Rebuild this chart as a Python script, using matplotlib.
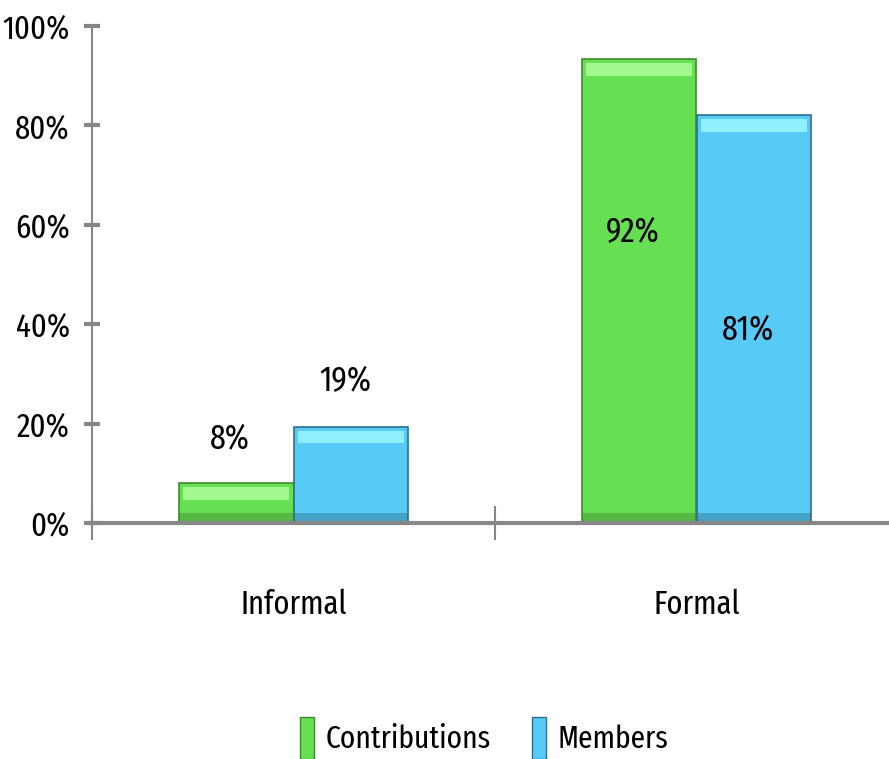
import matplotlib
matplotlib.use('Agg')
import matplotlib.pyplot as plt
from matplotlib.patches import Patch
import numpy as np

plt.rcParams['font.family'] = ['Fira Sans Extra Condensed', 'DejaVu Sans']

categories = ['Informal', 'Formal']
contributions = [8, 93.4]   # bar heights
members = [19.4, 82]
contrib_labels = ['8%', '92%']
member_labels = ['19%', '81%']
yticks = [0, 20, 40, 60, 80, 100]

green = '#66df52'
green_hi = '#a3f78f'
green_dk = '#3f8a31'
blue = '#58caf6'
blue_hi = '#8ff0fc'
blue_dk = '#2e6f8c'
axis_gray = '#878787'

fig = plt.figure(figsize=(8.89, 7.59), dpi=100)
ax = fig.add_axes([92/889, 236/759, 806/889, 497/759])

x = np.arange(len(categories))
w = 0.285

def bevel_bar(xs, heights, color, hi, dk):
    ax.bar(xs, heights, width=w, align='edge', color=color, edgecolor=dk,
           linewidth=1.2, zorder=2)
    # top highlight band and darker base band
    ax.bar(xs + w*0.04, [2.6]*len(xs), width=w*0.92, bottom=np.array(heights) - 3.4,
           align='edge', color=hi, linewidth=0, zorder=3)
    ax.bar(xs, [2.0]*len(xs), width=w, bottom=0, align='edge', color=dk,
           alpha=0.45, linewidth=0, zorder=3)

bevel_bar(x - w, contributions, green, green_hi, green_dk)
bevel_bar(x, members, blue, blue_hi, blue_dk)

# data labels
label_y_c = [17, 58.5]
label_y_m = [28.5, 39]
for i in range(len(categories)):
    ax.text(x[i] - w/2 - 0.015, label_y_c[i], contrib_labels[i], ha='center', va='center',
            fontsize=25, zorder=5)
    ax.text(x[i] + w/2 - 0.015, label_y_m[i], member_labels[i], ha='center', va='center',
            fontsize=25, zorder=5)

ax.set_xlim(-0.5, 1.5)
ax.set_ylim(0, 100)

for s in ['top', 'right']:
    ax.spines[s].set_visible(False)
ax.spines['left'].set_color(axis_gray)
ax.spines['left'].set_linewidth(1.5)
ax.spines['bottom'].set_color(axis_gray)
ax.spines['bottom'].set_linewidth(3)
ax.spines['bottom'].set_zorder(4)

ax.set_yticks(yticks)
ax.set_yticklabels(['%d%%' % v for v in yticks])
ax.tick_params(axis='y', direction='inout', length=12, width=3, color=axis_gray,
               labelsize=24, pad=10)

ax.set_xticks(x)
ax.set_xticklabels(categories)
ax.set_xticks([-0.5, 0.5, 1.5], minor=True)
ax.tick_params(axis='x', which='major', length=0, labelsize=24, pad=47)
ax.tick_params(axis='x', which='minor', direction='inout', length=25, width=1.5,
               color=axis_gray)

handles = [Patch(facecolor=green, edgecolor=green_dk, label='Contributions'),
           Patch(facecolor=blue, edgecolor=blue_dk, label='Members')]
fig.legend(handles=handles, loc='center', bbox_to_anchor=(484/889, 1 - 738/759),
           ncol=2, frameon=False, fontsize=23, handlelength=0.45, handleheight=1.6,
           handletextpad=0.35, columnspacing=1.3)

fig.savefig('out.png', dpi=100)
